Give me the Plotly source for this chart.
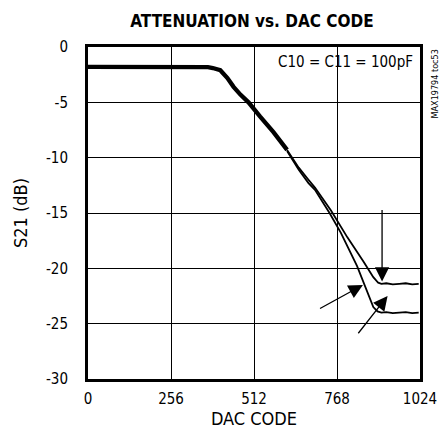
import plotly.graph_objects as go

# Shared part of the curve (both capacitor settings overlap)
common_code = [0, 100, 200, 300, 370, 385, 408, 430, 449, 470, 495, 531, 572, 614]
common_db = [-1.8, -1.8, -1.8, -1.8, -1.82, -1.9, -2.1, -2.8, -3.6, -4.3, -5.0, -6.3, -7.7, -9.3]

# Upper curve (plateau about -21.4 dB)
upper_code = [614, 650, 680, 700, 750, 800, 850, 880, 895, 905, 920, 940, 960, 980, 1000, 1020]
upper_db = [-9.3, -10.9, -12.0, -12.7, -14.8, -17.2, -19.4, -20.8, -21.3, -21.4, -21.35, -21.45, -21.4, -21.35, -21.45, -21.4]

# Lower curve (plateau about -24 dB)
lower_code = [614, 650, 680, 700, 745, 780, 830, 860, 880, 893, 905, 920, 940, 960, 980, 1000, 1020]
lower_db = [-9.4, -11.1, -12.3, -12.9, -15.0, -16.8, -19.8, -22.0, -23.5, -23.9, -24.0, -23.95, -24.05, -24.0, -23.95, -24.05, -24.0]

x_ticks = [0, 256, 512, 768, 1024]
y_ticks = [0, -5, -10, -15, -20, -25, -30]

# Arrows: (tail_code, tail_db, tip_code, tip_db)
arrows = [
    (907, -14.6, 907, -21.2),
    (711, -23.7, 848, -21.5),
    (830, -26.0, 924, -22.5),
]

FONT = "DejaVu Sans Condensed, Liberation Sans Narrow, Arial Narrow, sans-serif"

fig = go.Figure()
fig.add_trace(go.Scatter(x=common_code, y=common_db, mode="lines",
                         line=dict(color="black", width=4.3), hoverinfo="skip"))
fig.add_trace(go.Scatter(x=upper_code, y=upper_db, mode="lines",
                         line=dict(color="black", width=1.8), hoverinfo="skip"))
fig.add_trace(go.Scatter(x=lower_code, y=lower_db, mode="lines",
                         line=dict(color="black", width=1.8), hoverinfo="skip"))

for tx, ty, hx, hy in arrows:
    fig.add_annotation(x=hx, y=hy, ax=tx, ay=ty, xref="x", yref="y",
                       axref="x", ayref="y", text="", showarrow=True,
                       arrowhead=2, arrowsize=2.2, arrowwidth=1.3,
                       arrowcolor="black")

fig.add_annotation(x=1010, y=-1.4, xref="x", yref="y", text="C10 = C11 = 100pF",
                   showarrow=False, xanchor="right", yanchor="middle",
                   font=dict(size=15, color="black", family=FONT))
fig.add_annotation(x=1.045, y=1.0, xref="paper", yref="paper", text="MAX19794 toc53",
                   showarrow=False, textangle=-90, xanchor="center", yanchor="top",
                   font=dict(size=9, color="black", family=FONT))

fig.update_layout(
    width=448, height=439,
    margin=dict(l=88, r=28, t=47, b=60, autoexpand=False),
    paper_bgcolor="white", plot_bgcolor="white",
    showlegend=False,
    font=dict(family=FONT, size=15, color="black"),
    title=dict(text="<b>ATTENUATION vs. DAC CODE</b>", x=0.5625, xanchor="center",
               y=0.953, yanchor="middle", font=dict(size=17, family=FONT)),
)

fig.update_xaxes(range=[0, 1024], tickvals=x_ticks, ticktext=[str(v) for v in x_ticks],
                 showgrid=True, gridcolor="black", gridwidth=1, zeroline=False,
                 showline=True, linecolor="black", linewidth=3, mirror=True,
                 ticks="", ticklabelstandoff=4, automargin=False,
                 title=dict(text="DAC CODE", standoff=6))
fig.update_yaxes(range=[-30, 0], tickvals=y_ticks, ticktext=[str(v) for v in y_ticks],
                 showgrid=True, gridcolor="black", gridwidth=1, zeroline=False,
                 showline=True, linecolor="black", linewidth=3, mirror=True,
                 ticks="", ticklabelstandoff=14, automargin=False,
                 title=dict(text="S21 (dB)", standoff=14))

fig.write_html("out.html", config={"displayModeBar": False},
               post_script="document.body.style.margin='0';")
